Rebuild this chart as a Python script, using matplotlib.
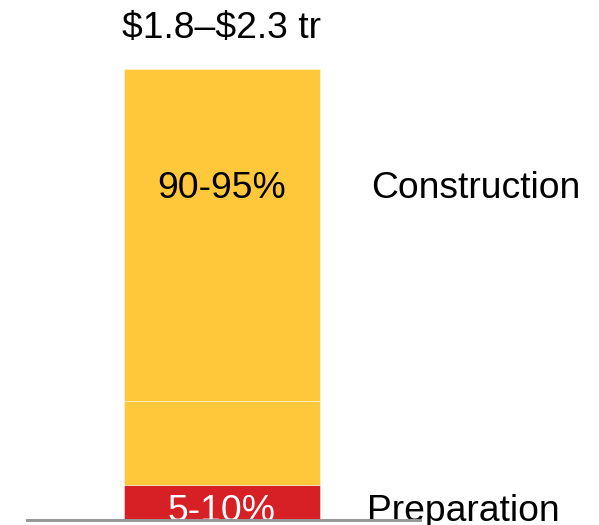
import matplotlib
matplotlib.use("Agg")
import matplotlib.pyplot as plt

plt.rcParams['font.family'] = ['Liberation Sans', 'DejaVu Sans']

category = [0]
segments = [7.8, 18.6, 73.6]          # stacked shares (%) bottom -> top
seg_colors = ['#D71F26', '#FFC73A', '#FFC73A']
inner_labels = ['5-10%', None, '90-95%']
label_ypos = [1.9, None, 73.4]
label_colors = ['white', None, 'black']
side_labels = ['Preparation', 'Construction']
side_ypos = [1.9, 73.4]
total_label = '$1.8–$2.3 tr'

W, H = 599, 525
FS = 26.8
fig = plt.figure(figsize=(W/100, H/100), dpi=100)
ax = fig.add_axes([0, (H-520)/H, 1, (520-69)/H])
ax.set_xlim(-222/196, (W-222)/196)
ax.set_ylim(0, 100)
ax.axis('off')

bottom = 0
for v, c in zip(segments, seg_colors):
    ax.bar(category, [v], bottom=bottom, width=1.0, color=c,
           edgecolor=(1, 1, 1, 0.5), linewidth=0.6, zorder=2)
    bottom += v

for lab, y, c in zip(inner_labels, label_ypos, label_colors):
    if lab:
        ax.text(0, y, lab, ha='center', va='center', fontsize=FS, color=c, zorder=3)

ax.text(0.76, side_ypos[1], side_labels[1], ha='left', va='center', fontsize=FS, color='black')
ax.text(0.74, side_ypos[0], side_labels[0], ha='left', va='center', fontsize=FS, color='black', clip_on=False)
ax.text(0, 109.0, total_label, ha='center', va='center', fontsize=FS, color='black',
        clip_on=False, parse_math=False)

ax.axhline(0, xmin=27/W, xmax=420/W, color='#999999', linewidth=2.2, zorder=4, clip_on=False)

fig.savefig('out.png', dpi=100)
